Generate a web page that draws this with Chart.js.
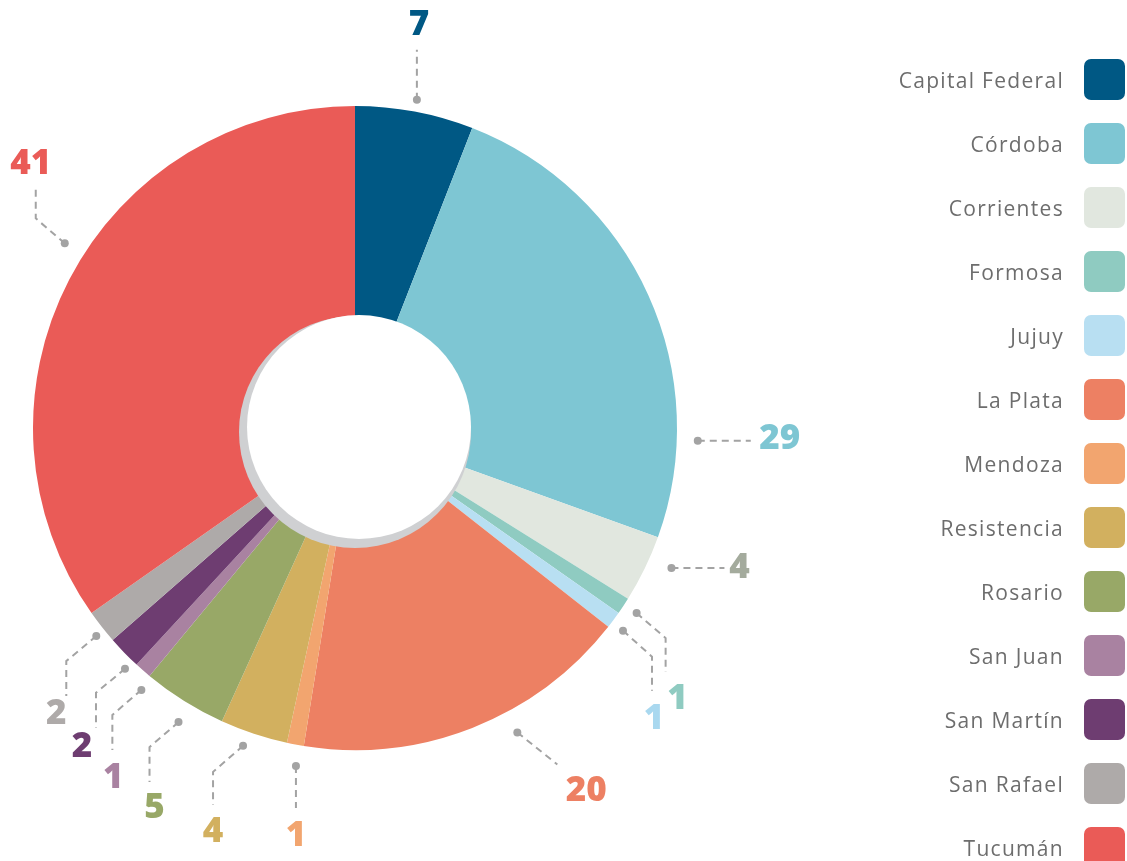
<!DOCTYPE html>
<html>
<head>
<meta charset="utf-8">
<script src="https://cdn.jsdelivr.net/npm/chart.js@4.4.1/dist/chart.umd.min.js"></script>
<style>
  html, body { margin: 0; padding: 0; background: #ffffff; }
  #wrap { position: relative; width: 1127px; height: 861px; overflow: hidden; }
  #c { position: absolute; left: 0; top: 0; }
  #legend { position: absolute; left: 0; top: 0; width: 1127px; height: 861px; pointer-events: none; }
  .item { position: absolute; right: 2px; height: 41px; display: flex; align-items: center; }
  .item span { font-family: "Open Sans", sans-serif; font-size: 21px; letter-spacing: 1.3px; color: #6d6d6d; margin-right: 20px; white-space: nowrap; }
  .item i { display: block; width: 41px; height: 41px; border-radius: 7px; }
</style>
</head>
<body>
<div id="wrap">
  <canvas id="c" width="1127" height="861"></canvas>
  <div id="legend"></div>
</div>
<script>
// ---- data ----
const categories = ["Capital Federal", "Córdoba", "Corrientes", "Formosa", "Jujuy", "La Plata", "Mendoza",
                    "Resistencia", "Rosario", "San Juan", "San Martín", "San Rafael", "Tucumán"];
const values = [7, 29, 4, 1, 1, 20, 1, 4, 5, 1, 2, 2, 41];

// ---- styles ----
const sliceColors = ["#005884", "#7ec6d3", "#e1e7df", "#8fcbc1", "#b8dff2", "#ed8063", "#f2a56f",
                     "#d2b05f", "#98a867", "#a982a1", "#6e3d71", "#aeaaa9", "#ea5b57"];
const labelColors = ["#005884", "#7ec6d3", "#a4ab9d", "#8fcbc1", "#a9d8ef", "#ed8063", "#f2a56f",
                     "#d2b05f", "#98a867", "#a982a1", "#6e3d71", "#aeaaa9", "#ea5b57"];
// anchor: fraction along slice, gap beyond outer radius; path: leader segments from the dot; txt: label offset from line end
const labelStyle = [
  { frac: 0.50, gap: 12, path: [[0, -50]], txt: [2, -26] },
  { frac: 0.80, gap: 21, path: [[53, 0]], txt: [29, -3] },
  { frac: 0.33, gap: 24, path: [[53, 0]], txt: [15, -1] },
  { frac: 0.42, gap: 15, path: [[29, 25], [29, 59]], txt: [12, 26] },
  { frac: 0.66, gap: 14, path: [[29, 26], [29, 60]], txt: [2, 27] },
  { frac: 0.39, gap: 23, path: [[40, 32]], txt: [29, 26] },
  { frac: 0.25, gap: 21, path: [[0, 42]], txt: [0, 27] },
  { frac: 0.59, gap: 15, path: [[-30, 26], [-30, 59]], txt: [0, 26] },
  { frac: 0.43, gap: 21, path: [[-29, 25], [-29, 60]], txt: [5, 25] },
  { frac: -0.15, gap: 16, path: [[-29, 25], [-29, 60]], txt: [1, 27] },
  { frac: 0.16, gap: 11, path: [[-29, 24], [-29, 59]], txt: [-14, 18] },
  { frac: 0.39, gap: 10, path: [[-30, 25], [-30, 60]], txt: [-10, 17] },
  { frac: 0.54, gap: 22, path: [[-29, -25], [-29, -58]], txt: [-5, -22] }
];

// ---- legend (HTML) ----
const legend = document.getElementById('legend');
categories.forEach((name, i) => {
  const d = document.createElement('div');
  d.className = 'item';
  d.style.top = (59 + 64 * i) + 'px';
  const s = document.createElement('span');
  s.textContent = name;
  const b = document.createElement('i');
  b.style.background = sliceColors[i];
  d.appendChild(s); d.appendChild(b);
  legend.appendChild(d);
});

// ---- plugins ----
const centerPlugin = {
  id: 'centerHole',
  afterDatasetsDraw(chart) {
    const arc = chart.getDatasetMeta(0).data[0];
    if (!arc) return;
    const ctx = chart.ctx;
    const cx = arc.x, cy = arc.y;
    ctx.save();
    ctx.fillStyle = '#cfd0d2';
    ctx.beginPath(); ctx.arc(cx, cy + 4, 116, 0, Math.PI * 2); ctx.fill();
    ctx.fillStyle = '#ffffff';
    ctx.beginPath(); ctx.arc(cx + 4, cy - 1, 112, 0, Math.PI * 2); ctx.fill();
    ctx.restore();
  }
};

const leaderPlugin = {
  id: 'leaders',
  afterDraw(chart) {
    const ctx = chart.ctx;
    const meta = chart.getDatasetMeta(0);
    meta.data.forEach((arc, i) => {
      const st = labelStyle[i];
      const a = arc.startAngle + st.frac * (arc.endAngle - arc.startAngle);
      const r = arc.outerRadius + st.gap;
      const x0 = arc.x + r * Math.cos(a), y0 = arc.y + r * Math.sin(a);
      ctx.save();
      ctx.strokeStyle = '#a3a3a3';
      ctx.lineWidth = 2;
      ctx.setLineDash([7, 5]);
      ctx.beginPath();
      ctx.moveTo(x0, y0);
      let ex = x0, ey = y0;
      st.path.forEach(p => { ex = x0 + p[0]; ey = y0 + p[1]; ctx.lineTo(ex, ey); });
      ctx.stroke();
      ctx.setLineDash([]);
      ctx.fillStyle = '#a3a3a3';
      ctx.beginPath(); ctx.arc(x0, y0, 4, 0, Math.PI * 2); ctx.fill();
      ctx.fillStyle = labelColors[i];
      ctx.font = '800 35px "Open Sans", sans-serif';
      ctx.textAlign = 'center';
      ctx.textBaseline = 'middle';
      ctx.fillText(String(values[i]), ex + st.txt[0], ey + st.txt[1] + 1);
      ctx.restore();
    });
  }
};

new Chart(document.getElementById('c'), {
  type: 'doughnut',
  data: {
    labels: categories,
    datasets: [{
      data: values,
      backgroundColor: sliceColors,
      borderWidth: 0,
      hoverBorderWidth: 0,
      hoverOffset: 0,
      offset: 0
    }]
  },
  options: {
    responsive: false,
    animation: false,
    cutout: 90,
    layout: { padding: { left: 33, top: 106, right: 450, bottom: 111 } },
    plugins: { legend: { display: false }, tooltip: { enabled: false } },
    events: []
  },
  plugins: [centerPlugin, leaderPlugin]
});
</script>
</body>
</html>
